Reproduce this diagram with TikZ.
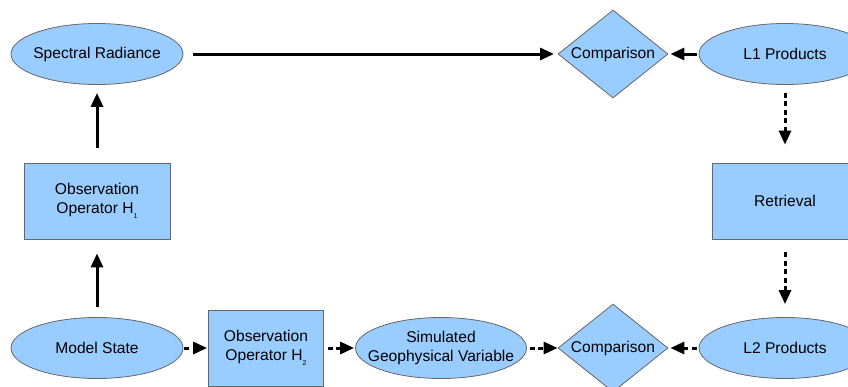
\documentclass[tikz,border=0pt]{standalone}
\usepackage{fontspec}
\setmainfont{Liberation Sans}
\usetikzlibrary{shapes.geometric,arrows.meta}
\definecolor{boxfill}{HTML}{99CCFF}
\definecolor{boxline}{HTML}{666666}
\tikzset{
  base/.style={fill=boxfill,draw=boxline,line width=0.8pt,font=\fontsize{15.6}{18.5}\selectfont,align=center,inner sep=0pt},
  ell/.style={base,ellipse,inner sep=-40pt,minimum width=172pt,minimum height=61pt},
  rect/.style={base,rectangle,minimum width=146pt,minimum height=76pt},
  dia/.style={base,diamond,inner sep=-20pt,minimum width=110pt,minimum height=88pt},
  arr/.style={line width=3pt,-{Triangle[length=14pt,width=12pt]}},
  darr/.style={line width=3pt,dash pattern=on 5pt off 3.5pt,-{Triangle[length=14pt,width=12pt]}},
}
\newcommand{\sbs}[1]{\raisebox{-5pt}{\fontsize{7}{8}\selectfont #1}}
\begin{document}
\begin{tikzpicture}[x=1pt,y=-1pt]
\useasboundingbox (0,0) rectangle (848,386);
\clip (0,0) rectangle (848,386);
\node[ell] (sr) at (97,54) {Spectral Radiance};
\node[dia] (c1) at (613,54) {Comparison};
\node[ell] (l1) at (785,54) {L1 Products};
\node[rect] (h1) at (97,201) {Observation\\Operator H\sbs{1}};
\node[rect] (ret) at (785,201) {Retrieval};
\node[ell] (ms) at (97,348) {Model State};
\node[rect,minimum width=115pt] (h2) at (266,348) {Observation\\Operator H\sbs{2}};
\node[ell,minimum width=171pt] (sg) at (441,348) {Simulated\\Geophysical Variable};
\node[dia] (c2) at (613,348) {Comparison};
\node[ell] (l2) at (785,348) {L2 Products};
\coordinate (a1s) at (193,54);
\coordinate (a1e) at (554,54);
\draw[arr] (a1s) -- (a1e);
\draw[arr,shorten <=2pt,shorten >=2pt] (l1.west) -- (c1.east);
\draw[arr,shorten <=15pt,shorten >=8pt] (h1.north) -- (sr.south);
\draw[arr,shorten <=10pt,shorten >=14pt] (ms.north) -- (h1.south);
\draw[darr,shorten <=8pt,shorten >=18pt] (l1.south) -- (ret.north);
\draw[darr,shorten <=13pt,shorten >=13pt] (ret.south) -- (l2.north);
\draw[darr,shorten <=1pt,shorten >=1pt] (ms.east) -- (h2.west);
\draw[darr,shorten <=4pt,shorten >=1pt] (h2.east) -- (sg.west);
\draw[darr,shorten <=3pt,shorten >=0pt] (sg.east) -- (c2.west);
\draw[darr,shorten <=2pt,shorten >=2pt] (l2.west) -- (c2.east);
\end{tikzpicture}
\end{document}
